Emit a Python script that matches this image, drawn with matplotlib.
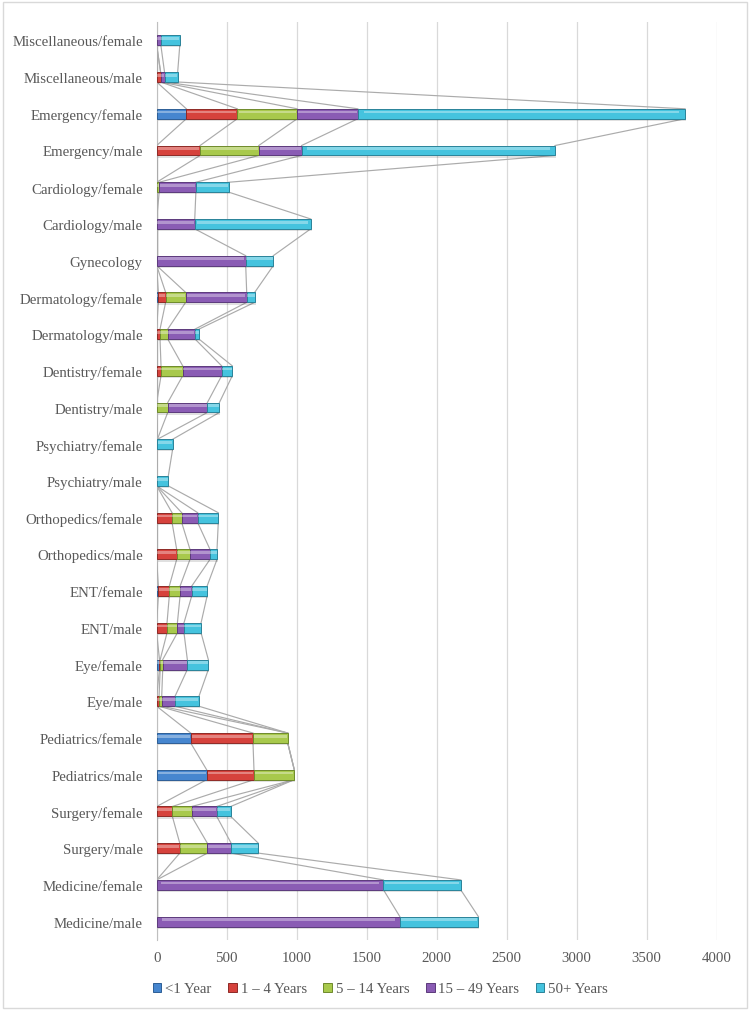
import numpy as np
import matplotlib
matplotlib.use('Agg')
import matplotlib.pyplot as plt
from matplotlib.patches import Patch, Rectangle

plt.rcParams['font.family'] = ['Liberation Serif', 'DejaVu Serif']

# categories, top to bottom as shown
categories = [
    'Miscellaneous/female', 'Miscellaneous/male', 'Emergency/female', 'Emergency/male',
    'Cardiology/female', 'Cardiology/male', 'Gynecology', 'Dermatology/female',
    'Dermatology/male', 'Dentistry/female', 'Dentistry/male', 'Psychiatry/female',
    'Psychiatry/male', 'Orthopedics/female', 'Orthopedics/male', 'ENT/female',
    'ENT/male', 'Eye/female', 'Eye/male', 'Pediatrics/female', 'Pediatrics/male',
    'Surgery/female', 'Surgery/male', 'Medicine/female', 'Medicine/male',
]
series_names = ['<1 Year', '1 \u2013 4 Years', '5 \u2013 14 Years', '15 \u2013 49 Years', '50+ Years']

under_1 = [0, 0, 212, 0, 0, 0, 0, 12, 0, 0, 0, 5, 0, 0, 0, 12, 0, 20, 0, 243, 357, 0, 0, 0, 0]
age_1_4 = [0, 28, 364, 310, 0, 0, 0, 52, 24, 31, 0, 0, 0, 110, 143, 78, 74, 5, 17, 445, 338, 112, 165, 0, 0]
age_5_14 = [0, 0, 428, 419, 18, 0, 0, 143, 55, 155, 79, 0, 0, 69, 95, 77, 74, 18, 19, 248, 288, 138, 197, 0, 0]
age_15_49 = [30, 28, 433, 306, 262, 272, 636, 436, 195, 278, 283, 0, 0, 114, 143, 83, 47, 176, 95, 0, 0, 179, 170, 1620, 1737]
age_50_plus = [135, 94, 2337, 1810, 235, 828, 197, 57, 28, 76, 86, 109, 83, 147, 50, 110, 122, 150, 171, 0, 0, 100, 194, 552, 561]

colors = ['#4686CF', '#D6423C', '#A8C94C', '#8A5CB4', '#45C3DE']
edge_colors = ['#2D5E96', '#8E2A26', '#6E8A2C', '#5C3A7C', '#2A8399']

data = np.array([under_1, age_1_4, age_5_14, age_15_49, age_50_plus], dtype=float)
cum = np.cumsum(data, axis=0)
left = cum - data

fig = plt.figure(figsize=(7.5, 10.12), dpi=100)
ax = fig.add_axes([0.2089, 0.0702, 0.7467, 0.9071])

y = np.arange(len(categories))
h = 0.27

# series lines between adjacent bars
for j in range(len(series_names)):
    for i in range(len(categories) - 1):
        ax.plot([cum[j, i], cum[j, i + 1]], [y[i] + h / 2, y[i + 1] - h / 2],
                color='#ABABAB', lw=0.85, zorder=2)

for j, name in enumerate(series_names):
    mask = data[j] > 0
    # soft shadow
    ax.barh(y[mask] + 0.06, data[j][mask], left=left[j][mask] + 6, height=h,
            color='#000000', alpha=0.12, zorder=3)
    ax.barh(y[mask], data[j][mask], left=left[j][mask], height=h, color=colors[j],
            edgecolor=edge_colors[j], linewidth=0.7, zorder=4)
    # bevel highlight
    ax.barh(y[mask] - h * 0.18, data[j][mask] * 0.96, left=left[j][mask] + data[j][mask] * 0.02,
            height=h * 0.28, color='white', alpha=0.35, linewidth=0, zorder=5)

ax.set_ylim(len(categories) - 0.5, -0.5)
ax.set_xlim(0, 4000)
ax.set_yticks(y)
ax.set_yticklabels(categories)
ax.set_xticks(np.arange(0, 4001, 500))
ax.tick_params(axis='both', length=0, labelsize=10.7, colors='#595959')
ax.tick_params(axis='y', pad=10)
ax.tick_params(axis='x', pad=8)
ax.grid(axis='x', color='#D9D9D9', lw=0.9, zorder=0)
ax.set_axisbelow(True)
for s in ['top', 'right', 'bottom']:
    ax.spines[s].set_visible(False)
ax.spines['left'].set_color('#BFBFBF')
ax.spines['left'].set_zorder(1)

handles = [Patch(facecolor=colors[j], edgecolor=edge_colors[j], linewidth=0.7) for j in range(len(series_names))]
fig.legend(handles, series_names, loc='center', bbox_to_anchor=(0.507, 1 - 990 / 1012),
           ncol=5, frameon=False, fontsize=10.7, handlelength=0.6, handleheight=0.6,
           handletextpad=0.25, columnspacing=1.1, labelcolor='#595959')

fig.patches.append(Rectangle((0.004, 0.003), 0.992, 0.994, transform=fig.transFigure,
                             fill=False, edgecolor='#D9D9D9', linewidth=1))

fig.savefig('out.png', dpi=100)
